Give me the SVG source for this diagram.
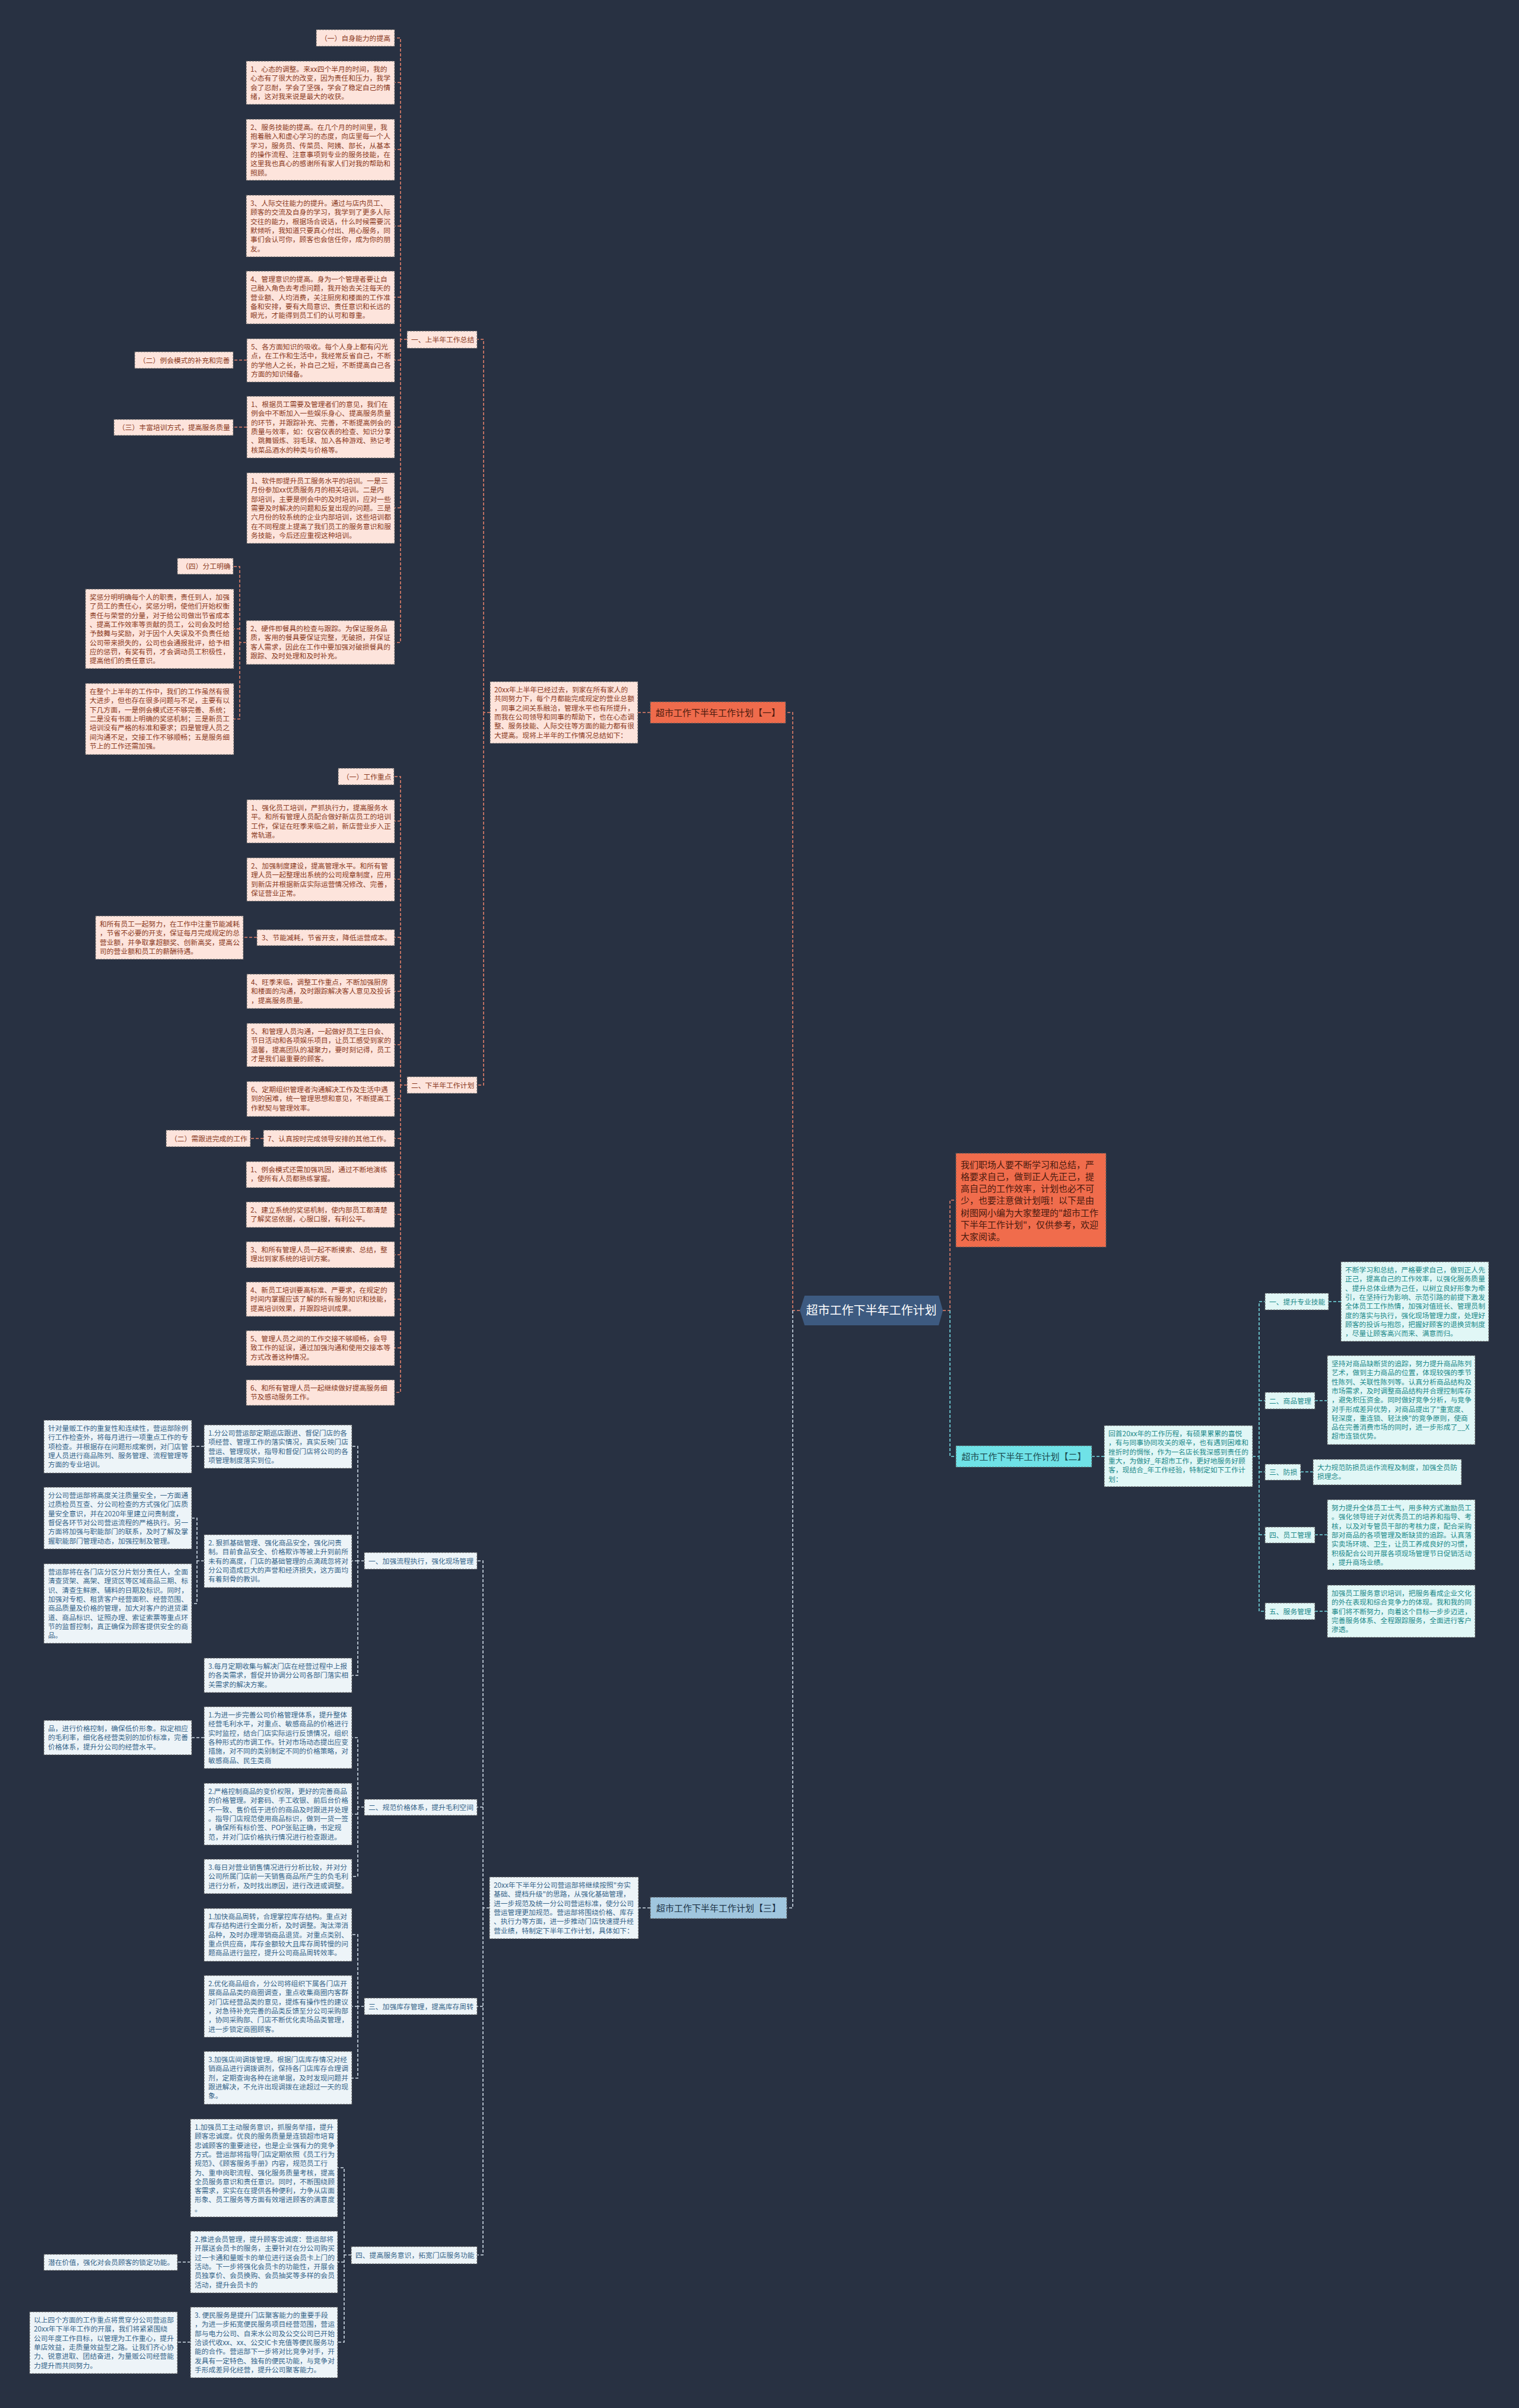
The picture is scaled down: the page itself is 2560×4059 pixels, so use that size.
<svg xmlns="http://www.w3.org/2000/svg" width="2560" height="4059" viewBox="0 0 2560 4059">
<style>
text{font-family:"Noto Sans CJK SC","Noto Sans",sans-serif;font-size:11.8px}
.p rect{fill:#fde4dc;stroke:#5e5e5e;stroke-width:1.2;stroke-dasharray:3 2}
.p text{fill:#8b3a22}
.c rect{fill:#e1f7f6;stroke:#5e5e5e;stroke-width:1.2;stroke-dasharray:3 2}
.c text{fill:#1b8a8a}
.b rect{fill:#edf4f8;stroke:#5e5e5e;stroke-width:1.2;stroke-dasharray:3 2}
.b text{fill:#36658a}
.m text{font-size:15px}
.lo,.lc,.lb{fill:none;stroke-width:1.6;stroke-dasharray:5 3}
.lo{stroke:#e3806a}
.lc{stroke:#74dbe2}
.lb{stroke:#cfdbe6}
</style>
<rect width="2560" height="4059" fill="#283142"/>
<g id="connectors">
<path class="lo" d="M1348,2209H1336V1201H1324"/>
<path class="lo" d="M1096,1201H1075"/>
<path class="lo" d="M826,1201H815V572H804M815,1201V1829H804"/>
<path class="lo" d="M686,572H675V64H665M675,139H665M675,252H665M675,381H665M675,501H665M675,607H665M675,720H665M675,856H665M675,572V1083H665"/>
<path class="lo" d="M416,607H393M416,720H393"/>
<path class="lo" d="M415,1083H404V955H394M404,1060H394M404,1083V1212H394"/>
<path class="lo" d="M686,1829H675V1309H665M675,1384H665M675,1482H665M675,1580H665M675,1671H665M675,1761H665M675,1852H665M675,1919H665M675,1829V2347H665M675,1980H665M675,2047H665M675,2115H665M675,2190H665M675,2272H665"/>
<path class="lo" d="M433,1580H410M444,1919H422"/>
<path class="lo" d="M1589,2209H1601V2023H1611"/>
<path class="lc" d="M1601,2209V2455H1611"/>
<path class="lc" d="M1840,2455H1861"/>
<path class="lc" d="M2111,2455H2122V2194H2132M2122,2361H2132M2122,2481H2132M2122,2455V2716H2132M2122,2587H2132"/>
<path class="lc" d="M2239,2194H2260M2216,2361H2237M2192,2481H2213M2216,2587H2237M2216,2716H2237"/>
<path class="lb" d="M1336,2209V3216H1326"/>
<path class="lb" d="M1096,3216H1076"/>
<path class="lb" d="M825,3216H814V2631H804M814,3046H804M814,3216V3801H804M814,3382H804"/>
<path class="lb" d="M614,2631H603V2438H593M603,2631H593M603,2631V2824H593"/>
<path class="lb" d="M344,2438H323"/>
<path class="lb" d="M344,2631H332V2559H323M332,2631V2703H323"/>
<path class="lb" d="M614,3046H603V2929H593M603,3046V3163H593M603,3058H593"/>
<path class="lb" d="M344,2929H323"/>
<path class="lb" d="M614,3382H603V3261H593M603,3382H593M603,3382V3503H593"/>
<path class="lb" d="M592,3801H580V3654H569M580,3801V3948H569M580,3813H569"/>
<path class="lb" d="M321,3813H299M321,3948H299"/>
</g>

<g id="center"><polygon points="1348,2209 1356,2184 1582,2184 1589,2209 1582,2234 1356,2234" fill="#3d5a80"/><text x="1468.5" y="2216" text-anchor="middle" fill="#ffffff" style="font-size:20px">超市工作下半年工作计划</text></g>

<g id="intro" class="m"><rect x="1611" y="1944" width="253" height="158" fill="#f06c4c" stroke="#5e5e5e" stroke-width="1.2" stroke-dasharray="3 2"/><text fill="#4a1a0e"><tspan x="1619" y="1968.5">我们职场人要不断学习和总结，严</tspan><tspan x="1619" y="1988.8">格要求自己，做到正人先正己，提</tspan><tspan x="1619" y="2009.1">高自己的工作效率，计划也必不可</tspan><tspan x="1619" y="2029.4">少，也要注意做计划哦！以下是由</tspan><tspan x="1619" y="2049.7">树图网小编为大家整理的"超市工作</tspan><tspan x="1619" y="2070">下半年工作计划"，仅供参考，欢迎</tspan><tspan x="1619" y="2090.3">大家阅读。</tspan></text></g>

<!-- Branch 1 -->
<g id="plan1" class="m"><rect x="1096" y="1183" width="228" height="36" fill="#ef6b4c" stroke="#5e5e5e" stroke-width="1.2" stroke-dasharray="3 2"/><text x="1210" y="1206.5" text-anchor="middle" fill="#4a1a0e">超市工作下半年工作计划【一】</text></g>
<g id="p1-intro" class="p"><rect x="826" y="1149" width="249" height="104"/><text><tspan x="833" y="1167">20xx年上半年已经过去，到家在所有家人的</tspan><tspan x="833" y="1182.3">共同努力下，每个月都能完成规定的营业总额</tspan><tspan x="833" y="1197.6">，同事之间关系融洽，管理水平也有所提升，</tspan><tspan x="833" y="1212.9">而我在公司领导和同事的帮助下，也在心态调</tspan><tspan x="833" y="1228.2">整、服务技能、人际交往等方面的能力都有很</tspan><tspan x="833" y="1243.5">大提高。现将上半年的工作情况总结如下：</tspan></text></g>
<g id="s1" class="p"><rect x="686" y="558" width="118" height="29"/><text x="693" y="577">一、上半年工作总结</text></g>
<g id="s2" class="p"><rect x="686" y="1815" width="118" height="28"/><text x="693" y="1833.5">二、下半年工作计划</text></g>

<g id="a0" class="p"><rect x="533" y="50" width="132" height="28"/><text x="540" y="68.5">（一）自身能力的提高</text></g>
<g id="a1" class="p"><rect x="415" y="103" width="250" height="73"/><text><tspan x="422" y="121">1、心态的调整。来xx四个半月的时间，我的</tspan><tspan x="422" y="136.3">心态有了很大的改变，因为责任和压力，我学</tspan><tspan x="422" y="151.6">会了忍耐，学会了坚强，学会了稳定自己的情</tspan><tspan x="422" y="166.9">绪，这对我来说是最大的收获。</tspan></text></g>
<g id="a2" class="p"><rect x="415" y="201" width="250" height="103"/><text><tspan x="422" y="219">2、服务技能的提高。在几个月的时间里，我</tspan><tspan x="422" y="234.3">抱着融入和虚心学习的态度，向店里每一个人</tspan><tspan x="422" y="249.6">学习，服务员、传菜员、阿姨、部长，从基本</tspan><tspan x="422" y="264.9">的操作流程、注意事项到专业的服务技能，在</tspan><tspan x="422" y="280.2">这里我也真心的感谢所有家人们对我的帮助和</tspan><tspan x="422" y="295.5">照顾。</tspan></text></g>
<g id="a3" class="p"><rect x="415" y="329" width="250" height="104"/><text><tspan x="422" y="347">3、人际交往能力的提升。通过与店内员工、</tspan><tspan x="422" y="362.3">顾客的交流及自身的学习，我学到了更多人际</tspan><tspan x="422" y="377.6">交往的能力，根据场合说话，什么时候需要沉</tspan><tspan x="422" y="392.9">默倾听，我知道只要真心付出、用心服务，同</tspan><tspan x="422" y="408.2">事们会认可你，顾客也会信任你，成为你的朋</tspan><tspan x="422" y="423.5">友。</tspan></text></g>
<g id="a4" class="p"><rect x="415" y="457" width="250" height="89"/><text><tspan x="422" y="475">4、管理意识的提高。身为一个管理者要让自</tspan><tspan x="422" y="490.3">己融入角色去考虑问题，我开始去关注每天的</tspan><tspan x="422" y="505.6">营业额、人均消费，关注厨房和楼面的工作准</tspan><tspan x="422" y="520.9">备和安排，要有大局意识、责任意识和长远的</tspan><tspan x="422" y="536.2">眼光，才能得到员工们的认可和尊重。</tspan></text></g>
<g id="a5" class="p"><rect x="416" y="571" width="249" height="73"/><text><tspan x="423" y="589">5、各方面知识的吸收。每个人身上都有闪光</tspan><tspan x="423" y="604.3">点，在工作和生活中，我经常反省自己，不断</tspan><tspan x="423" y="619.6">的学他人之长，补自己之短，不断提高自己各</tspan><tspan x="423" y="634.9">方面的知识储备。</tspan></text></g>
<g id="a5l" class="p"><rect x="227" y="593" width="166" height="28"/><text x="234" y="611.5">（二）例会模式的补充和完善</text></g>
<g id="a6" class="p"><rect x="416" y="668" width="249" height="104"/><text><tspan x="423" y="686">1、根据员工需要及管理者们的意见，我们在</tspan><tspan x="423" y="701.3">例会中不断加入一些娱乐身心、提高服务质量</tspan><tspan x="423" y="716.6">的环节，并跟踪补充、完善，不断提高例会的</tspan><tspan x="423" y="731.9">质量与效率，如：仪容仪表的检查、知识分享</tspan><tspan x="423" y="747.2">、跳舞锻炼、羽毛球、加入各种游戏、熟记考</tspan><tspan x="423" y="762.5">核菜品酒水的种类与价格等。</tspan></text></g>
<g id="a6l" class="p"><rect x="192" y="707" width="201" height="27"/><text x="199" y="725">（三）丰富培训方式，提高服务质量</text></g>
<g id="a7" class="p"><rect x="416" y="797" width="249" height="119"/><text><tspan x="423" y="815">1、软件即提升员工服务水平的培训。一是三</tspan><tspan x="423" y="830.3">月份参加xx优质服务月的相关培训。二是内</tspan><tspan x="423" y="845.6">部培训，主要是例会中的及时培训，应对一些</tspan><tspan x="423" y="860.9">需要及时解决的问题和反复出现的问题。三是</tspan><tspan x="423" y="876.2">六月份的较系统的企业内部培训，这些培训都</tspan><tspan x="423" y="891.5">在不同程度上提高了我们员工的服务意识和服</tspan><tspan x="423" y="906.8">务技能，今后还应重视这种培训。</tspan></text></g>
<g id="a8" class="p"><rect x="415" y="1046" width="250" height="74"/><text><tspan x="422" y="1064">2、硬件即餐具的检查与跟踪。为保证服务品</tspan><tspan x="422" y="1079.3">质，客用的餐具要保证完整，无破损，并保证</tspan><tspan x="422" y="1094.6">客人需求，因此在工作中要加强对破损餐具的</tspan><tspan x="422" y="1109.9">跟踪、及时处理和及时补充。</tspan></text></g>
<g id="a8a" class="p"><rect x="299" y="941" width="94" height="27"/><text x="306" y="959">（四）分工明确</text></g>
<g id="a8b" class="p"><rect x="144" y="993" width="250" height="134"/><text><tspan x="151" y="1011">奖惩分明明确每个人的职责，责任到人，加强</tspan><tspan x="151" y="1026.3">了员工的责任心，奖惩分明，使他们开始权衡</tspan><tspan x="151" y="1041.6">责任与荣誉的分量，对于给公司做出节省成本</tspan><tspan x="151" y="1056.9">、提高工作效率等贡献的员工，公司会及时给</tspan><tspan x="151" y="1072.2">予鼓舞与奖励，对于因个人失误及不负责任给</tspan><tspan x="151" y="1087.5">公司带来损失的，公司也会通报批评，给予相</tspan><tspan x="151" y="1102.8">应的惩罚，有奖有罚，才会调动员工积极性，</tspan><tspan x="151" y="1118.1">提高他们的责任意识。</tspan></text></g>
<g id="a8c" class="p"><rect x="144" y="1152" width="250" height="120"/><text><tspan x="151" y="1170">在整个上半年的工作中，我们的工作虽然有很</tspan><tspan x="151" y="1185.3">大进步，但也存在很多问题与不足，主要有以</tspan><tspan x="151" y="1200.6">下几方面，一是例会模式还不够完善、系统；</tspan><tspan x="151" y="1215.9">二是没有书面上明确的奖惩机制；三是新员工</tspan><tspan x="151" y="1231.2">培训没有严格的标准和要求；四是管理人员之</tspan><tspan x="151" y="1246.5">间沟通不足，交接工作不够顺畅；五是服务细</tspan><tspan x="151" y="1261.8">节上的工作还需加强。</tspan></text></g>

<g id="b0" class="p"><rect x="570" y="1295" width="94" height="28"/><text x="577" y="1313.5">（一）工作重点</text></g>
<g id="b1" class="p"><rect x="416" y="1348" width="249" height="73"/><text><tspan x="423" y="1366">1、强化员工培训，严抓执行力，提高服务水</tspan><tspan x="423" y="1381.3">平。和所有管理人员配合做好新店员工的培训</tspan><tspan x="423" y="1396.6">工作，保证在旺季来临之前，新店营业步入正</tspan><tspan x="423" y="1411.9">常轨道。</tspan></text></g>
<g id="b2" class="p"><rect x="416" y="1446" width="249" height="73"/><text><tspan x="423" y="1464">2、加强制度建设，提高管理水平。和所有管</tspan><tspan x="423" y="1479.3">理人员一起整理出系统的公司规章制度，应用</tspan><tspan x="423" y="1494.6">到新店并根据新店实际运营情况修改、完善，</tspan><tspan x="423" y="1509.9">保证营业正常。</tspan></text></g>
<g id="b3" class="p"><rect x="433" y="1567" width="232" height="27"/><text x="441" y="1585">3、节能减耗，节省开支，降低运营成本。</text></g>
<g id="b3l" class="p"><rect x="161" y="1544" width="249" height="73"/><text><tspan x="168" y="1562">和所有员工一起努力，在工作中注重节能减耗</tspan><tspan x="168" y="1577.3">，节省不必要的开支，保证每月完成规定的总</tspan><tspan x="168" y="1592.6">营业额，并争取拿超额奖、创新高奖，提高公</tspan><tspan x="168" y="1607.9">司的营业额和员工的薪酬待遇。</tspan></text></g>
<g id="b4" class="p"><rect x="416" y="1642" width="249" height="58"/><text><tspan x="423" y="1660">4、旺季来临，调整工作重点，不断加强厨房</tspan><tspan x="423" y="1675.3">和楼面的沟通，及时跟踪解决客人意见及投诉</tspan><tspan x="423" y="1690.6">，提高服务质量。</tspan></text></g>
<g id="b5" class="p"><rect x="416" y="1725" width="249" height="73"/><text><tspan x="423" y="1743">5、和管理人员沟通，一起做好员工生日会、</tspan><tspan x="423" y="1758.3">节日活动和各项娱乐项目，让员工感受到家的</tspan><tspan x="423" y="1773.6">温馨，提高团队的凝聚力，要时刻记得，员工</tspan><tspan x="423" y="1788.9">才是我们最重要的顾客。</tspan></text></g>
<g id="b6" class="p"><rect x="416" y="1823" width="249" height="59"/><text><tspan x="423" y="1841">6、定期组织管理者沟通解决工作及生活中遇</tspan><tspan x="423" y="1856.3">到的困难，统一管理思想和意见，不断提高工</tspan><tspan x="423" y="1871.6">作默契与管理效率。</tspan></text></g>
<g id="b7" class="p"><rect x="444" y="1905" width="221" height="28"/><text x="451" y="1923.5">7、认真按时完成领导安排的其他工作。</text></g>
<g id="b7l" class="p"><rect x="280" y="1905" width="142" height="28"/><text x="287" y="1923.5">（二）需跟进完成的工作</text></g>
<g id="d1" class="p"><rect x="415" y="1958" width="250" height="44"/><text><tspan x="422" y="1976">1、例会模式还需加强巩固，通过不断地演练</tspan><tspan x="422" y="1991.3">，使所有人员都熟练掌握。</tspan></text></g>
<g id="d2" class="p"><rect x="415" y="2026" width="250" height="43"/><text><tspan x="422" y="2044">2、建立系统的奖惩机制，使内部员工都清楚</tspan><tspan x="422" y="2059.3">了解奖惩依据，心服口服，有利公平。</tspan></text></g>
<g id="d3" class="p"><rect x="415" y="2093" width="250" height="44"/><text><tspan x="422" y="2111">3、和所有管理人员一起不断摸索、总结，整</tspan><tspan x="422" y="2126.3">理出到家系统的培训方案。</tspan></text></g>
<g id="d4" class="p"><rect x="415" y="2161" width="250" height="58"/><text><tspan x="422" y="2179">4、新员工培训要高标准、严要求，在规定的</tspan><tspan x="422" y="2194.3">时间内掌握应该了解的所有服务知识和技能，</tspan><tspan x="422" y="2209.6">提高培训效果，并跟踪培训成果。</tspan></text></g>
<g id="d5" class="p"><rect x="415" y="2243" width="250" height="59"/><text><tspan x="422" y="2261">5、管理人员之间的工作交接不够顺畅，会导</tspan><tspan x="422" y="2276.3">致工作的延误，通过加强沟通和使用交接本等</tspan><tspan x="422" y="2291.6">方式改善这种情况。</tspan></text></g>
<g id="d6" class="p"><rect x="415" y="2326" width="250" height="43"/><text><tspan x="422" y="2344">6、和所有管理人员一起继续做好提高服务细</tspan><tspan x="422" y="2359.3">节及感动服务工作。</tspan></text></g>

<!-- Branch 2 -->
<g id="plan2" class="m"><rect x="1611" y="2437" width="229" height="36" fill="#6fe2e7" stroke="#5e5e5e" stroke-width="1.2" stroke-dasharray="3 2"/><text x="1725.5" y="2460.5" text-anchor="middle" fill="#1d4d52">超市工作下半年工作计划【二】</text></g>
<g id="p2-intro" class="c"><rect x="1861" y="2403" width="250" height="103"/><text><tspan x="1868" y="2421">回首20xx年的工作历程，有硕果累累的喜悦</tspan><tspan x="1868" y="2436.3">，有与同事协同攻关的艰辛，也有遇到困难和</tspan><tspan x="1868" y="2451.6">挫折时的惆怅，作为一名店长我深感到责任的</tspan><tspan x="1868" y="2466.9">重大，为做好_年超市工作，更好地服务好顾</tspan><tspan x="1868" y="2482.2">客，现结合_年工作经验，特制定如下工作计</tspan><tspan x="1868" y="2497.5">划：</tspan></text></g>
<g id="r1l" class="c"><rect x="2132" y="2180" width="107" height="28"/><text x="2139" y="2198.5">一、提升专业技能</text></g>
<g id="r1" class="c"><rect x="2260" y="2127" width="249" height="134"/><text><tspan x="2267" y="2145">不断学习和总结，严格要求自己，做到正人先</tspan><tspan x="2267" y="2160.3">正己，提高自己的工作效率，以强化服务质量</tspan><tspan x="2267" y="2175.6">、提升总体业绩为己任，以树立良好形象为牵</tspan><tspan x="2267" y="2190.9">引，在坚持行为影响、示范引路的前提下激发</tspan><tspan x="2267" y="2206.2">全体员工工作热情，加强对值班长、管理员制</tspan><tspan x="2267" y="2221.5">度的落实与执行，强化现场管理力度，处理好</tspan><tspan x="2267" y="2236.8">顾客的投诉与抱怨，把握好顾客的退换货制度</tspan><tspan x="2267" y="2252.1">，尽量让顾客高兴而来、满意而归。</tspan></text></g>
<g id="r2l" class="c"><rect x="2132" y="2347" width="84" height="28"/><text x="2139" y="2365.5">二、商品管理</text></g>
<g id="r2" class="c"><rect x="2237" y="2285" width="249" height="150"/><text><tspan x="2244" y="2303">坚持对商品缺断货的追踪，努力提升商品陈列</tspan><tspan x="2244" y="2318.3">艺术，做到主力商品的位置，体现较强的季节</tspan><tspan x="2244" y="2333.6">性陈列、关联性陈列等。认真分析商品结构及</tspan><tspan x="2244" y="2348.9">市场需求，及时调整商品结构并合理控制库存</tspan><tspan x="2244" y="2364.2">，避免积压资金。同时做好竞争分析，与竞争</tspan><tspan x="2244" y="2379.5">对手形成差异优势，对商品提出了"重宽度、</tspan><tspan x="2244" y="2394.8">轻深度，重连锁、轻汰换"的竞争原则，使商</tspan><tspan x="2244" y="2410.1">品在完善消费市场的同时，进一步形成了__X</tspan><tspan x="2244" y="2425.4">超市连锁优势。</tspan></text></g>
<g id="r3l" class="c"><rect x="2132" y="2468" width="60" height="27"/><text x="2139" y="2486">三、防损</text></g>
<g id="r3" class="c"><rect x="2213" y="2460" width="250" height="43"/><text><tspan x="2220" y="2478">大力规范防损员运作流程及制度，加强全员防</tspan><tspan x="2220" y="2493.3">损理念。</tspan></text></g>
<g id="r4l" class="c"><rect x="2132" y="2574" width="84" height="27"/><text x="2139" y="2592">四、员工管理</text></g>
<g id="r4" class="c"><rect x="2237" y="2528" width="249" height="118"/><text><tspan x="2244" y="2546">努力提升全体员工士气，用多种方式激励员工</tspan><tspan x="2244" y="2561.3">。强化领导班子对优秀员工的培养和指导、考</tspan><tspan x="2244" y="2576.6">核，以及对专管员干部的考核力度，配合采购</tspan><tspan x="2244" y="2591.9">部对商品的各项管理及断缺货的追踪。认真落</tspan><tspan x="2244" y="2607.2">实卖场环境、卫生，让员工养成良好的习惯，</tspan><tspan x="2244" y="2622.5">积极配合公司开展各项现场管理节日促销活动</tspan><tspan x="2244" y="2637.8">，提升商场业绩。</tspan></text></g>
<g id="r5l" class="c"><rect x="2132" y="2702" width="84" height="28"/><text x="2139" y="2720.5">五、服务管理</text></g>
<g id="r5" class="c"><rect x="2237" y="2672" width="249" height="88"/><text><tspan x="2244" y="2690">加强员工服务意识培训，把服务看成企业文化</tspan><tspan x="2244" y="2705.3">的外在表现和综合竞争力的体现。我和我的同</tspan><tspan x="2244" y="2720.6">事们将不断努力，向着这个目标一步步迈进，</tspan><tspan x="2244" y="2735.9">完善服务体系、全程跟踪服务，全面进行客户</tspan><tspan x="2244" y="2751.2">渗透。</tspan></text></g>

<!-- Branch 3 -->
<g id="plan3" class="m"><rect x="1096" y="3198" width="230" height="36" fill="#a0c6de" stroke="#5e5e5e" stroke-width="1.2" stroke-dasharray="3 2"/><text x="1211" y="3221.5" text-anchor="middle" fill="#1e3448">超市工作下半年工作计划【三】</text></g>
<g id="p3-intro" class="b"><rect x="825" y="3164" width="251" height="104"/><text><tspan x="832" y="3182">20xx年下半年分公司营运部将继续按照"夯实</tspan><tspan x="832" y="3197.3">基础、提档升级"的思路，从强化基础管理，</tspan><tspan x="832" y="3212.6">进一步规范及统一分公司营运标准，使分公司</tspan><tspan x="832" y="3227.9">营运管理更加规范。营运部将围绕价格、库存</tspan><tspan x="832" y="3243.2">、执行力等方面，进一步推动门店快速提升经</tspan><tspan x="832" y="3258.5">营业绩，特制定下半年工作计划，具体如下：</tspan></text></g>
<g id="t1" class="b"><rect x="614" y="2617" width="190" height="28"/><text x="621" y="2635.5">一、加强流程执行，强化现场管理</text></g>
<g id="e1" class="b"><rect x="344" y="2402" width="249" height="73"/><text><tspan x="351" y="2420">1.分公司营运部定期巡店跟进、督促门店的各</tspan><tspan x="351" y="2435.3">项经营、管理工作的落实情况，真实反映门店</tspan><tspan x="351" y="2450.6">营运、管理现状，指导和督促门店将公司的各</tspan><tspan x="351" y="2465.9">项管理制度落实到位。</tspan></text></g>
<g id="e1l" class="b"><rect x="74" y="2394" width="249" height="89"/><text><tspan x="81" y="2412">针对量贩工作的重复性和连续性，营运部除例</tspan><tspan x="81" y="2427.3">行工作检查外，将每月进行一项重点工作的专</tspan><tspan x="81" y="2442.6">项检查。并根据存在问题形成案例，对门店管</tspan><tspan x="81" y="2457.9">理人员进行商品陈列、服务管理、流程管理等</tspan><tspan x="81" y="2473.2">方面的专业培训。</tspan></text></g>
<g id="e2" class="b"><rect x="344" y="2587" width="249" height="89"/><text><tspan x="351" y="2605">2. 狠抓基础管理、强化商品安全，强化问责</tspan><tspan x="351" y="2620.3">制。目前食品安全、价格欺诈等被上升到前所</tspan><tspan x="351" y="2635.6">未有的高度，门店的基础管理的点滴疏忽将对</tspan><tspan x="351" y="2650.9">分公司造成巨大的声誉和经济损失，这方面均</tspan><tspan x="351" y="2666.2">有着刻骨的教训。</tspan></text></g>
<g id="e2a" class="b"><rect x="74" y="2507" width="249" height="104"/><text><tspan x="81" y="2525">分公司营运部将高度关注质量安全，一方面通</tspan><tspan x="81" y="2540.3">过质检员互查、分公司检查的方式强化门店质</tspan><tspan x="81" y="2555.6">量安全意识，并在2020年里建立问责制度，</tspan><tspan x="81" y="2570.9">督促各环节对公司营运流程的严格执行。另一</tspan><tspan x="81" y="2586.2">方面将加强与职能部门的联系，及时了解及掌</tspan><tspan x="81" y="2601.5">握职能部门管理动态，加强控制及管理。</tspan></text></g>
<g id="e2b" class="b"><rect x="74" y="2636" width="249" height="134"/><text><tspan x="81" y="2654">营运部将在各门店分区分片划分责任人，全面</tspan><tspan x="81" y="2669.3">清查货架、高架、理货区等区域商品三期、标</tspan><tspan x="81" y="2684.6">识、清查生鲜原、辅料的日期及标识。同时，</tspan><tspan x="81" y="2699.9">加强对专柜、租赁客户经营面积、经营范围、</tspan><tspan x="81" y="2715.2">商品质量及价格的管理，加大对客户的进货渠</tspan><tspan x="81" y="2730.5">道、商品标识、证照办理、索证索票等重点环</tspan><tspan x="81" y="2745.8">节的监督控制，真正确保为顾客提供安全的商</tspan><tspan x="81" y="2761.1">品。</tspan></text></g>
<g id="e3" class="b"><rect x="344" y="2795" width="249" height="58"/><text><tspan x="351" y="2813">3.每月定期收集与解决门店在经营过程中上报</tspan><tspan x="351" y="2828.3">的各类需求，督促并协调分公司各部门落实相</tspan><tspan x="351" y="2843.6">关需求的解决方案。</tspan></text></g>
<g id="t2" class="b"><rect x="614" y="3033" width="190" height="27"/><text x="621" y="3051">二、规范价格体系，提升毛利空间</text></g>
<g id="f1" class="b"><rect x="344" y="2877" width="249" height="104"/><text><tspan x="351" y="2895">1.为进一步完善公司价格管理体系，提升整体</tspan><tspan x="351" y="2910.3">经营毛利水平，对重点、敏感商品的价格进行</tspan><tspan x="351" y="2925.6">实时监控，结合门店实际运行反馈情况，组织</tspan><tspan x="351" y="2940.9">各种形式的市调工作。针对市场动态提出应变</tspan><tspan x="351" y="2956.2">措施，对不同的类别制定不同的价格策略，对</tspan><tspan x="351" y="2971.5">敏感商品、民生类商</tspan></text></g>
<g id="f1l" class="b"><rect x="74" y="2900" width="249" height="58"/><text><tspan x="81" y="2918">品，进行价格控制，确保低价形象。拟定相应</tspan><tspan x="81" y="2933.3">的毛利率，细化各经营类别的加价标准，完善</tspan><tspan x="81" y="2948.6">价格体系，提升分公司的经营水平。</tspan></text></g>
<g id="f2" class="b"><rect x="344" y="3006" width="249" height="104"/><text><tspan x="351" y="3024">2.严格控制商品的变价权限，更好的完善商品</tspan><tspan x="351" y="3039.3">的价格管理。对套码、手工收银、前后台价格</tspan><tspan x="351" y="3054.6">不一致、售价低于进价的商品及时跟进并处理</tspan><tspan x="351" y="3069.9">。指导门店规范使用商品标识，做到一货一签</tspan><tspan x="351" y="3085.2">，确保所有标价签、POP张贴正确，书定规</tspan><tspan x="351" y="3100.5">范，并对门店价格执行情况进行检查跟进。</tspan></text></g>
<g id="f3" class="b"><rect x="344" y="3134" width="249" height="58"/><text><tspan x="351" y="3152">3.每日对营业销售情况进行分析比较，并对分</tspan><tspan x="351" y="3167.3">公司所属门店前一天销售商品所产生的负毛利</tspan><tspan x="351" y="3182.6">进行分析，及时找出原因，进行改进或调整。</tspan></text></g>
<g id="t3" class="b"><rect x="614" y="3368" width="190" height="28"/><text x="621" y="3386.5">三、加强库存管理，提高库存周转</text></g>
<g id="g1" class="b"><rect x="344" y="3217" width="249" height="89"/><text><tspan x="351" y="3235">1.加快商品周转，合理掌控库存结构。重点对</tspan><tspan x="351" y="3250.3">库存结构进行全面分析，及时调整。淘汰滞消</tspan><tspan x="351" y="3265.6">品种，及时办理滞销商品退货。对重点类别、</tspan><tspan x="351" y="3280.9">重点供应商，库存金额较大且库存周转慢的问</tspan><tspan x="351" y="3296.2">题商品进行监控，提升公司商品周转效率。</tspan></text></g>
<g id="g2" class="b"><rect x="344" y="3330" width="249" height="104"/><text><tspan x="351" y="3348">2.优化商品组合，分公司将组织下属各门店开</tspan><tspan x="351" y="3363.3">展商品品类的商圈调查，重点收集商圈内客群</tspan><tspan x="351" y="3378.6">对门店经营品类的意见，提炼有操作性的建议</tspan><tspan x="351" y="3393.9">，对急待补充完善的品类反馈至分公司采购部</tspan><tspan x="351" y="3409.2">，协同采购部、门店不断优化卖场品类管理，</tspan><tspan x="351" y="3424.5">进一步锁定商圈顾客。</tspan></text></g>
<g id="g3" class="b"><rect x="344" y="3458" width="249" height="89"/><text><tspan x="351" y="3476">3.加强店间调拨管理。根据门店库存情况对经</tspan><tspan x="351" y="3491.3">销商品进行调拨调剂，保持各门店库存合理调</tspan><tspan x="351" y="3506.6">剂，定期查询各种在途单据，及时发现问题并</tspan><tspan x="351" y="3521.9">跟进解决，不允许出现调拨在途超过一天的现</tspan><tspan x="351" y="3537.2">象。</tspan></text></g>
<g id="t4" class="b"><rect x="592" y="3787" width="212" height="29"/><text x="599" y="3806">四、提高服务意识，拓宽门店服务功能</text></g>
<g id="h1" class="b"><rect x="321" y="3572" width="248" height="165"/><text><tspan x="328" y="3590">1.加强员工主动服务意识，抓服务举措，提升</tspan><tspan x="328" y="3605.3">顾客忠诚度。优良的服务质量是连锁超市培育</tspan><tspan x="328" y="3620.6">忠诚顾客的重要途径，也是企业强有力的竞争</tspan><tspan x="328" y="3635.9">方式。营运部将指导门店定期依照《员工行为</tspan><tspan x="328" y="3651.2">规范》、《顾客服务手册》内容，规范员工行</tspan><tspan x="328" y="3666.5">为、重申岗职流程、强化服务质量考核，提高</tspan><tspan x="328" y="3681.8">全员服务意识和责任意识。同时，不断围绕顾</tspan><tspan x="328" y="3697.1">客需求，实实在在提供各种便利，力争从店面</tspan><tspan x="328" y="3712.4">形象、员工服务等方面有效增进顾客的满意度</tspan><tspan x="328" y="3727.7">。</tspan></text></g>
<g id="h2" class="b"><rect x="321" y="3761" width="248" height="104"/><text><tspan x="328" y="3779">2.推进会员管理，提升顾客忠诚度：营运部将</tspan><tspan x="328" y="3794.3">开展送会员卡的服务，主要针对在分公司购买</tspan><tspan x="328" y="3809.6">过一卡通和量贩卡的单位进行送会员卡上门的</tspan><tspan x="328" y="3824.9">活动。下一步将强化会员卡的功能性，开展会</tspan><tspan x="328" y="3840.2">员独享价、会员换购、会员抽奖等多样的会员</tspan><tspan x="328" y="3855.5">活动，提升会员卡的</tspan></text></g>
<g id="h2l" class="b"><rect x="74" y="3800" width="225" height="27"/><text x="81" y="3818">潜在价值，强化对会员顾客的锁定功能。</text></g>
<g id="h3" class="b"><rect x="321" y="3889" width="248" height="119"/><text><tspan x="328" y="3907">3. 便民服务是提升门店聚客能力的重要手段</tspan><tspan x="328" y="3922.3">，为进一步拓宽便民服务项目经营范围，营运</tspan><tspan x="328" y="3937.6">部与电力公司、自来水公司及公交公司已开始</tspan><tspan x="328" y="3952.9">洽谈代收xx、xx、公交IC卡充值等便民服务功</tspan><tspan x="328" y="3968.2">能的合作。营运部下一步将对比竞争对手，开</tspan><tspan x="328" y="3983.5">发具有一定特色、独有的便民功能，与竞争对</tspan><tspan x="328" y="3998.8">手形成差异化经营，提升公司聚客能力。</tspan></text></g>
<g id="h3l" class="b"><rect x="50" y="3897" width="249" height="104"/><text><tspan x="57" y="3915">以上四个方面的工作重点将贯穿分公司营运部</tspan><tspan x="57" y="3930.3">20xx年下半年工作的开展，我们将紧紧围绕</tspan><tspan x="57" y="3945.6">公司年度工作目标，以管理为工作重心，提升</tspan><tspan x="57" y="3960.9">单店效益，走质量效益型之路。让我们齐心协</tspan><tspan x="57" y="3976.2">力、锐意进取、团结奋进，为量贩公司经营能</tspan><tspan x="57" y="3991.5">力提升而共同努力。</tspan></text></g>
</svg>
